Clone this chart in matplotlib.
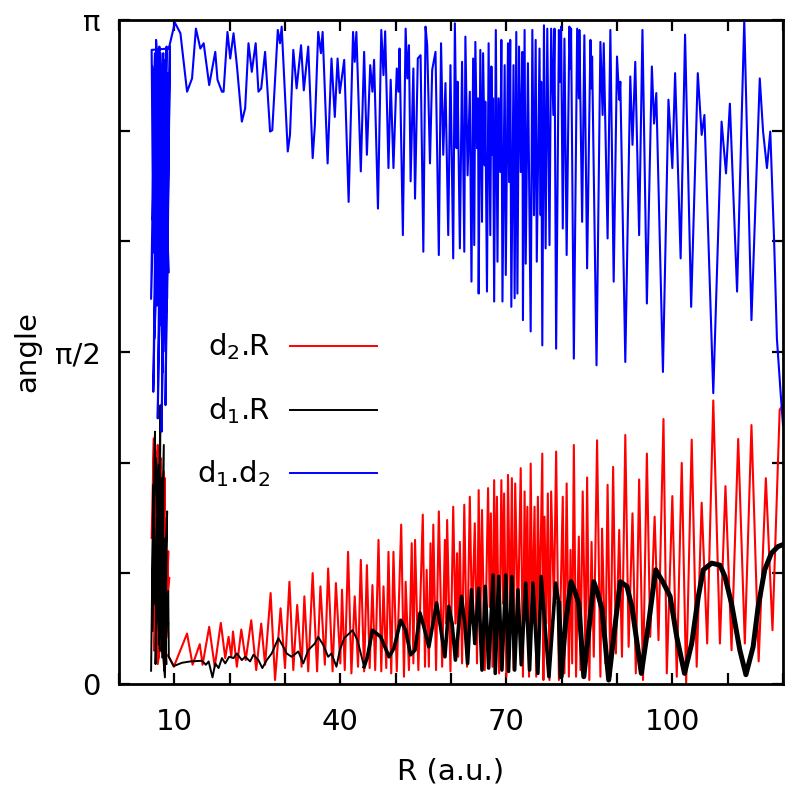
import numpy as np
import matplotlib
matplotlib.use("Agg")
import matplotlib.pyplot as plt

plt.rcParams["font.family"] = ["DejaVu Sans"]
plt.rcParams["mathtext.fontset"] = "custom"
plt.rcParams["mathtext.rm"] = "DejaVu Sans"
plt.rcParams["mathtext.default"] = "regular"

# angles are given in units of pi, R in a.u.
red_r = [5.9, 6.3, 6.1, 6.7, 6.4, 7.0, 6.8, 7.3, 7.1, 7.6, 7.4, 8.0, 7.7, 8.3, 8.0, 8.6, 8.4, 8.9, 8.6,
         6.2, 7.2, 6.5, 7.8, 6.9, 8.5, 7.5, 8.8, 6.6, 8.1, 7.0, 9.1, 7.9, 9.0,
         9.9, 12.3, 13.3, 14.6, 15.1, 16.3, 17.3, 18.4, 19.2, 19.8, 20.3, 20.6, 21.3, 22.1, 22.9, 23.9,
         24.8, 25.7, 26.4, 27.4, 28.2, 29.2, 30.0, 30.8, 31.5, 32.2, 33.0, 33.5, 34.2, 35.0, 35.8, 36.4,
         37.2, 37.8, 38.6, 39.2, 40.0,
         40.3, 40.8, 41.4, 42.0, 42.6, 43.2, 43.7, 44.3, 44.8, 45.3, 45.8, 46.3, 46.9, 47.4, 47.8, 48.3,
         48.7, 49.2, 49.6, 50.2, 51.0, 51.5, 51.8, 52.4, 52.9, 53.2, 53.5, 54.1, 54.9, 55.3, 55.6, 56.0,
         56.3, 56.6, 56.8, 57.3, 57.8, 58.4, 58.9, 59.1, 59.3, 59.9, 60.4, 60.8, 61.1, 61.3, 61.6, 62.0,
         62.4, 62.9, 63.4, 63.8, 64.3, 64.7, 65.0, 65.3, 65.6, 66.1, 66.7, 67.0, 67.2, 67.5, 67.8, 68.0,
         68.3, 68.7, 69.1, 69.4, 69.6, 70.0, 70.3, 70.7, 71.0, 71.3, 71.6, 72.1, 72.6, 73.0, 73.3, 73.5,
         73.8, 74.1, 74.4, 74.7, 75.1, 75.4, 75.7, 76.0, 76.5, 76.7, 76.9, 77.2, 77.5, 77.8, 78.1, 78.6,
         79.0, 79.5,
         80.2, 80.5, 80.9, 81.3, 81.6, 81.9, 82.2, 82.6, 83.1, 83.4, 83.8, 84.3, 84.6, 85.0, 85.4, 85.8,
         86.4, 87.0, 87.3, 87.9, 88.3, 88.8, 89.3, 89.8, 90.4, 90.9, 91.5, 92.1, 92.8, 93.4, 94.0, 94.7,
         95.4, 96.0, 96.8, 97.5, 98.4, 99.0, 100.0, 100.8, 101.7, 102.5, 103.5, 104.4, 105.3, 106.3,
         107.4, 108.6, 109.6, 110.7, 111.9, 113.1, 114.3, 115.6, 116.9, 118.1, 119.4, 120.0]
red_a = [0.22, 0.37, 0.08, 0.33, 0.05, 0.36, 0.12, 0.30, 0.06, 0.34, 0.10, 0.28, 0.05, 0.31, 0.09, 0.25, 0.04, 0.20, 0.07,
         0.27, 0.04, 0.30, 0.14, 0.35, 0.06, 0.24, 0.11, 0.18, 0.32, 0.03, 0.16, 0.05, 0.041,
         0.026, 0.076, 0.029, 0.06, 0.029, 0.086, 0.026, 0.092, 0.039, 0.071, 0.041, 0.079, 0.026, 0.082, 0.036, 0.096,
         0.021, 0.091, 0.029, 0.137, 0.006, 0.114, 0.024, 0.154, 0.021, 0.119, 0.026, 0.132, 0.019, 0.167, 0.019, 0.147,
         0.029, 0.174, 0.019, 0.152, 0.031,
         0.142, 0.021, 0.199, 0.016, 0.132, 0.026, 0.187, 0.019, 0.179, 0.024, 0.149, 0.021, 0.217, 0.019, 0.147, 0.024,
         0.199, 0.016, 0.199, 0.019, 0.240, 0.011, 0.154, 0.021, 0.212, 0.031, 0.217, 0.021, 0.255, 0.026, 0.172, 0.026,
         0.212, 0.091, 0.240, 0.021, 0.260, 0.026, 0.217, 0.091, 0.247, 0.019, 0.267, 0.091, 0.197, 0.041, 0.214, 0.031,
         0.270, 0.026, 0.282, 0.091, 0.242, 0.031, 0.292, 0.091, 0.262, 0.021, 0.295, 0.116, 0.257, 0.026, 0.307, 0.116,
         0.282, 0.016, 0.307, 0.121, 0.287, 0.011, 0.315, 0.091, 0.310, 0.021, 0.302, 0.091, 0.325, 0.011, 0.290, 0.116,
         0.267, 0.011, 0.332, 0.091, 0.267, 0.011, 0.282, 0.101, 0.347, 0.006, 0.252, 0.091, 0.287, 0.006, 0.290, 0.116,
         0.350, 0.006,
         0.282, 0.016, 0.302, 0.011, 0.202, 0.031, 0.360, 0.011, 0.222, 0.021, 0.290, 0.041, 0.311, 0.006, 0.214, 0.041,
         0.367, 0.011, 0.234, 0.031, 0.300, 0.011, 0.327, 0.046, 0.232, 0.041, 0.375, 0.056, 0.257, 0.016, 0.308, 0.006,
         0.347, 0.071, 0.252, 0.066, 0.399, 0.016, 0.283, 0.011, 0.333, 0.001, 0.368, 0.026, 0.273, 0.061,
         0.427, 0.061, 0.298, 0.051, 0.369, 0.061, 0.390, 0.034, 0.310, 0.081, 0.413, 0.42]

black_r = [5.8, 6.2, 6.0, 6.5, 6.3, 6.9, 6.6, 7.2, 6.9, 7.5, 7.2, 7.8, 7.5, 8.1, 7.8, 8.4, 8.1, 8.7, 8.3,
           6.4, 7.4, 6.7, 8.0, 7.0, 8.6, 7.3, 8.9, 6.1, 7.7, 8.2, 8.9, 9.0,
           9.9, 11.4, 12.9, 15.0, 15.7, 16.2, 16.9, 17.4, 18.0, 18.6, 19.2, 19.9, 20.7, 21.3, 22.2, 22.8, 23.7,
           24.3, 25.2, 25.9, 26.7, 27.6, 28.8, 29.7, 30.3, 31.2, 32.4, 33.3, 34.2, 35.4, 36.0, 36.9, 37.8, 38.4,
           39.3, 39.9,
           40.7, 42.2, 43.1, 44.3, 44.9, 45.8, 47.3, 48.8, 49.7, 50.9, 51.8, 52.7, 53.5, 54.4, 55.1, 56.0, 57.4,
           58.1, 58.9, 59.6, 60.2, 60.8, 61.9, 62.5, 63.0, 63.7, 64.3, 65.0, 65.6, 66.2, 66.8, 67.6, 68.0, 68.6,
           69.2, 69.9, 70.4, 71.0, 71.5, 72.1, 72.7, 73.5, 74.2, 74.8, 75.7, 76.3, 77.7, 78.9, 79.5, 79.9,
           80.7, 81.7, 82.5, 83.1, 84.0, 84.9, 85.8, 86.5, 87.3, 88.5, 89.4, 90.6, 91.8, 92.7, 94.4, 95.7, 97.0,
           98.4, 99.6, 100.8, 102.2, 103.5, 104.7, 105.6, 107.1, 108.6, 109.5, 110.7, 112.2, 113.3, 114.6, 115.5,
           116.7, 117.9, 119.1, 120.0]
black_a = [0.02, 0.30, 0.08, 0.38, 0.12, 0.25, 0.03, 0.33, 0.10, 0.42, 0.06, 0.28, 0.15, 0.36, 0.04, 0.22, 0.10, 0.26, 0.01,
           0.20, 0.05, 0.34, 0.08, 0.18, 0.03, 0.24, 0.09, 0.13, 0.31, 0.02, 0.14, 0.041,
           0.027, 0.032, 0.034, 0.035, 0.029, 0.034, 0.010, 0.031, 0.024, 0.039, 0.031, 0.041, 0.039, 0.046, 0.036, 0.041, 0.034,
           0.044, 0.036, 0.024, 0.036, 0.046, 0.069, 0.056, 0.046, 0.041, 0.049, 0.031, 0.051, 0.061, 0.071, 0.059, 0.041, 0.046,
           0.026, 0.051,
           0.069, 0.081, 0.066, 0.026, 0.041, 0.081, 0.071, 0.041, 0.054, 0.096, 0.081, 0.044, 0.051, 0.107, 0.086, 0.056, 0.122,
           0.086, 0.041, 0.117, 0.091, 0.036, 0.132, 0.091, 0.031, 0.142, 0.061, 0.144, 0.021, 0.147, 0.024, 0.164, 0.016, 0.162,
           0.021, 0.164, 0.019, 0.162, 0.021, 0.142, 0.029, 0.152, 0.021, 0.152, 0.016, 0.162, 0.011, 0.152, 0.121, 0.011,
           0.091, 0.154, 0.137, 0.121, 0.011, 0.081, 0.154, 0.137, 0.112, 0.006, 0.071, 0.154, 0.147, 0.116, 0.016, 0.091, 0.172,
           0.152, 0.132, 0.071, 0.016, 0.061, 0.132, 0.172, 0.182, 0.179, 0.162, 0.121, 0.051, 0.014, 0.056, 0.116,
           0.172, 0.197, 0.207, 0.21]

blue_r = [6.1, 6.5, 5.8, 6.9, 6.2, 7.3, 6.6, 7.6, 7.0, 8.0, 7.3, 8.3, 7.7, 8.6, 8.0, 8.9, 8.4, 9.2, 8.7,
          6.3, 7.1, 6.0, 7.8, 6.7, 8.5, 7.4, 6.4, 8.2, 7.9, 6.8, 9.0, 7.5, 6.9, 8.8, 6.2, 5.9, 9.0,
          10.1, 11.1, 12.3, 13.2, 13.9, 14.7, 15.3, 16.3, 17.4, 17.8, 18.6, 18.9, 19.6, 20.1, 20.7, 21.3, 22.2,
          22.8, 23.4, 24.0, 24.7, 25.2, 25.7, 26.4, 27.3, 27.7, 28.7, 29.1, 29.4, 30.5, 30.9, 31.5, 32.1, 32.9,
          33.4, 34.2, 35.0, 35.4, 36.0, 36.5, 36.8, 37.7, 38.4, 39.0, 39.5, 39.9,
          40.7, 41.5, 42.3, 42.6, 42.9, 43.7, 44.3, 44.8, 45.4, 45.8, 46.1, 46.8, 47.4, 47.8, 48.1, 48.7, 49.1,
          49.6, 50.2, 50.5, 50.7, 51.3, 51.8, 52.1, 52.4, 52.7, 53.2, 53.5, 54.0, 54.5, 55.0, 55.4, 55.7, 56.2,
          56.6,
          57.2, 57.8, 58.2, 58.6, 59.0, 59.5, 59.9, 60.4, 60.7, 61.0, 61.2, 61.6, 62.0, 62.4, 62.6, 63.0, 63.4,
          63.7, 64.0, 64.2, 64.4, 64.7, 64.9, 65.0, 65.3, 65.6, 65.8, 66.1, 66.2, 66.5, 66.8, 67.1, 67.3, 67.5,
          67.6, 67.8, 68.1, 68.4, 68.6, 68.9, 69.1, 69.3, 69.7, 69.9, 70.3, 70.5, 70.7, 70.9, 71.3, 71.5, 71.8,
          72.0, 72.3, 72.6, 72.9, 73.0, 73.3, 73.5, 73.9, 74.4, 74.7, 75.0, 75.3, 75.5, 76.0, 76.2, 76.3, 76.5,
          76.8, 77.1, 77.4, 77.8, 78.1, 78.5, 78.7, 79.0, 79.5, 79.7, 79.9, 80.2,
          80.5, 80.9, 81.4, 81.6, 81.7, 82.2, 82.8, 83.1, 83.2, 83.7, 84.1, 84.6, 85.2, 85.4, 85.5, 86.3, 87.0,
          87.4, 87.6, 88.3, 88.8, 89.4, 90.0, 90.4, 90.6, 91.5, 92.4, 92.8, 93.3, 94.0, 94.6, 95.4, 96.3, 96.7,
          97.1, 98.3, 99.3, 100.0, 100.5, 101.5, 102.3, 103.4, 104.6, 105.3, 105.8, 107.4, 108.9, 109.7, 110.4,
          111.7, 113.0, 114.3, 115.8, 116.4, 117.1, 117.7, 118.4, 118.9, 119.6, 120.0]
blue_a = [0.70, 0.95, 0.58, 0.92, 0.44, 0.96, 0.63, 0.89, 0.40, 0.95, 0.54, 0.88, 0.38, 0.96, 0.50, 0.92, 0.42, 0.96, 0.58,
          0.86, 0.60, 0.93, 0.66, 0.97, 0.55, 0.91, 0.52, 0.94, 0.47, 0.84, 0.62, 0.95, 0.57, 0.90, 0.65, 0.955, 0.957,
          0.996, 0.98, 0.892, 0.912, 0.987, 0.957, 0.965, 0.902, 0.952, 0.91, 0.892, 0.892, 0.982, 0.942, 0.98, 0.932, 0.847,
          0.867, 0.965, 0.922, 0.965, 0.892, 0.897, 0.952, 0.832, 0.834, 0.985, 0.965, 0.99, 0.802, 0.827, 0.955, 0.897, 0.962,
          0.894, 0.96, 0.792, 0.842, 0.982, 0.95, 0.982, 0.784, 0.942, 0.854, 0.942, 0.89,
          0.94, 0.726, 0.982, 0.937, 0.982, 0.772, 0.952, 0.797, 0.932, 0.892, 0.94, 0.716, 0.985, 0.917, 0.983, 0.777, 0.91,
          0.777, 0.927, 0.892, 0.957, 0.676, 0.987, 0.912, 0.962, 0.757, 0.927, 0.731, 0.942, 0.947, 0.651, 0.99, 0.962, 0.784,
          0.925,
          0.952, 0.646, 0.965, 0.797, 0.905, 0.676, 0.932, 0.641, 0.995, 0.807, 0.907, 0.656, 0.937, 0.651, 0.975, 0.766, 0.892,
          0.606, 0.942, 0.661, 0.967, 0.807, 0.882, 0.588, 0.955, 0.696, 0.95, 0.781, 0.877, 0.591, 0.965, 0.676, 0.93, 0.797,
          0.882, 0.576, 0.985, 0.636, 0.882, 0.771, 0.97, 0.576, 0.932, 0.616, 0.965, 0.756, 0.97, 0.568, 0.932, 0.581, 0.982,
          0.588, 0.96, 0.771, 0.952, 0.548, 0.985, 0.633, 0.935, 0.531, 0.985, 0.706, 0.97, 0.636, 0.957, 0.706, 0.907, 0.51,
          0.992, 0.656, 0.987, 0.661, 0.987, 0.857, 0.987, 0.505, 0.985, 0.907, 0.99, 0.686,
          0.972, 0.646, 0.99, 0.927, 0.987, 0.49, 0.987, 0.882, 0.985, 0.696, 0.977, 0.626, 0.97, 0.897, 0.945, 0.48, 0.967,
          0.857, 0.965, 0.671, 0.985, 0.606, 0.945, 0.88, 0.907, 0.485, 0.915, 0.812, 0.937, 0.676, 0.985, 0.573, 0.93, 0.844,
          0.89, 0.47, 0.88, 0.777, 0.92, 0.641, 0.978, 0.568, 0.92, 0.827, 0.857, 0.438, 0.847, 0.769, 0.874,
          0.591, 1.0, 0.548, 0.912, 0.832, 0.777, 0.832, 0.666, 0.52, 0.435, 0.39]

x_tick_labels = {10: "10", 40: "40", 70: "70", 100: "100"}
legend_labels = ["d$_2$.R", "d$_1$.R", "d$_1$.d$_2$"]
colors = ["#ff0000", "#000000", "#0000ff"]
fs = 21

fig = plt.figure(figsize=(8.0, 7.96), dpi=100)
ax = fig.add_axes([119 / 800, 112 / 796, 664 / 800, 664 / 796])

ax.plot(red_r, np.array(red_a) * np.pi, color=colors[0], lw=1.5)
br = np.array(black_r)
ba = np.array(black_a) * np.pi
ax.plot(br, ba, color=colors[1], lw=1.4)
mid = (br >= 44) & (br < 80)
ax.plot(br[mid], ba[mid], color=colors[1], lw=2.6)
ax.plot(br[br >= 79.5], ba[br >= 79.5], color=colors[1], lw=3.6)
ax.plot(blue_r, np.array(blue_a) * np.pi, color=colors[2], lw=1.5)

ax.set_xlim(0, 120)
ax.set_ylim(0, np.pi)

xt = np.arange(0, 121, 10)
ax.set_xticks(xt)
ax.set_xticklabels([x_tick_labels.get(int(v), "") for v in xt])
yt = np.arange(0, 7) * np.pi / 6
ax.set_yticks(yt)
ax.set_yticklabels(["0", "", "", "\u03c0/2", "", "", "\u03c0"])

ax.tick_params(direction="in", length=8, width=1.6, top=True, right=True,
               labelsize=fs)
ax.tick_params(axis="x", pad=17)
ax.tick_params(axis="y", pad=13)
for s in ax.spines.values():
    s.set_linewidth(2)

ax.set_xlabel("R (a.u.)", fontsize=fs, labelpad=16)
ax.set_ylabel("angle", fontsize=fs, labelpad=10)

# key, drawn as in the original: label to the left, sample line to the right
rows = [0.509, 0.4127, 0.3178]
for lab, c, y in zip(legend_labels, colors, rows):
    ax.plot([0.2575, 0.3886], [y, y], color=c, lw=1.4, transform=ax.transAxes)
    ax.text(0.2274, y - 0.0136, lab, transform=ax.transAxes, ha="right",
            va="baseline", fontsize=fs)

fig.savefig("out.png", dpi=100)
